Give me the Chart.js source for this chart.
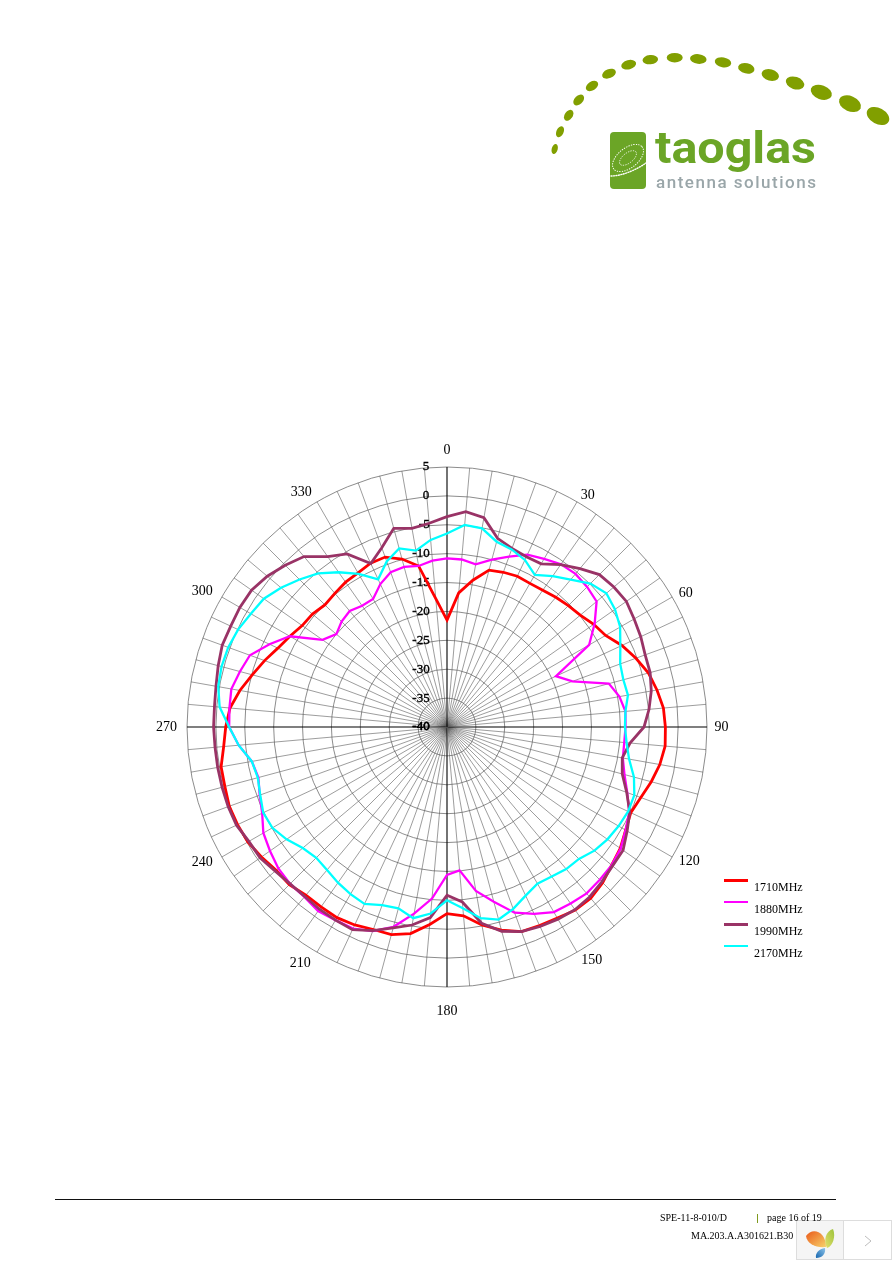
<!DOCTYPE html>
<html>
<head>
<meta charset="utf-8">
<title>Antenna radiation pattern</title>
<style>
html,body{margin:0;padding:0;background:#fff;width:892px;height:1262px;overflow:hidden;}
#wrap{position:relative;width:892px;height:1262px;overflow:hidden;}
canvas{position:absolute;left:0;top:0;}
svg{position:absolute;left:0;top:0;}
.ft{position:absolute;font:10px "Liberation Serif",serif;color:#000;white-space:nowrap;}
</style>
<script src="https://cdn.jsdelivr.net/npm/chart.js@4"></script>
</head>
<body>
<div id="wrap">
<canvas id="c" width="892" height="1262"></canvas>
<svg width="892" height="1262" viewBox="0 0 892 1262">
  <defs>
    <linearGradient id="o" x1="0" y1="0" x2="1" y2="1"><stop offset="0" stop-color="#ea5a1a"/><stop offset="1" stop-color="#f7d26a"/></linearGradient>
    <linearGradient id="g" x1="1" y1="0" x2="0" y2="1"><stop offset="0" stop-color="#9cc33c"/><stop offset="1" stop-color="#e4df6c"/></linearGradient>
    <linearGradient id="b" x1="1" y1="0" x2="0" y2="1"><stop offset="0" stop-color="#8cc4ea"/><stop offset="1" stop-color="#1766ae"/></linearGradient>
  </defs>
  <g fill="#819f00">
    <ellipse cx="554.7" cy="149" rx="3" ry="5.2" transform="rotate(15 554.7 149)"/>
    <ellipse cx="560" cy="131.7" rx="3.6" ry="5.8" transform="rotate(25 560 131.7)"/>
    <ellipse cx="568.7" cy="115.3" rx="4" ry="6" transform="rotate(35 568.7 115.3)"/>
    <ellipse cx="578.7" cy="100" rx="4.2" ry="6.4" transform="rotate(45 578.7 100)"/>
    <ellipse cx="592" cy="86" rx="4.3" ry="6.8" transform="rotate(58 592 86)"/>
    <ellipse cx="609" cy="73.7" rx="4.5" ry="7.2" transform="rotate(68 609 73.7)"/>
    <ellipse cx="628.7" cy="64.7" rx="4.6" ry="7.6" transform="rotate(75 628.7 64.7)"/>
    <ellipse cx="650.3" cy="59.7" rx="4.6" ry="7.8" transform="rotate(85 650.3 59.7)"/>
    <ellipse cx="674.7" cy="57.7" rx="4.8" ry="8" transform="rotate(90 674.7 57.7)"/>
    <ellipse cx="698.3" cy="59" rx="4.8" ry="8.3" transform="rotate(97 698.3 59)"/>
    <ellipse cx="723" cy="62.3" rx="5" ry="8.3" transform="rotate(100 723 62.3)"/>
    <ellipse cx="746.3" cy="68.3" rx="5.2" ry="8.3" transform="rotate(103 746.3 68.3)"/>
    <ellipse cx="770.3" cy="75" rx="5.7" ry="8.8" transform="rotate(105 770.3 75)"/>
    <ellipse cx="795" cy="83" rx="6.2" ry="9.5" transform="rotate(108 795 83)"/>
    <ellipse cx="821.3" cy="92.3" rx="7" ry="11" transform="rotate(110 821.3 92.3)"/>
    <ellipse cx="850" cy="103.7" rx="7.6" ry="11.5" transform="rotate(113 850 103.7)"/>
    <ellipse cx="878" cy="116" rx="8" ry="12" transform="rotate(118 878 116)"/>
  </g>
  <rect x="610" y="132" width="36" height="57" rx="4" fill="#6ba526"/>
  <g fill="none" stroke="#fff" stroke-linecap="round">
    <ellipse cx="628" cy="158" rx="18" ry="10" transform="rotate(-38 628 158)" stroke-width="1" stroke-dasharray="0.5 2"/>
    <ellipse cx="628" cy="158" rx="10" ry="5" transform="rotate(-38 628 158)" stroke-width="0.8" stroke-dasharray="0.5 2"/>
    <path d="M611,176 C622,176 636,170 646,163" stroke-width="1.4" stroke-dasharray="1 1.5"/>
  </g>
  <text x="655" y="163" font-family="Roboto" font-weight="700" font-size="44" fill="#6ba526" textLength="161" lengthAdjust="spacingAndGlyphs">taoglas</text>
  <text x="656" y="188" font-family="Roboto" font-weight="500" font-size="17" fill="#9aa6a9" textLength="160" lengthAdjust="spacing">antenna solutions</text>
  <line x1="55" y1="1199.5" x2="836" y2="1199.5" stroke="#111" stroke-width="1"/>
  <rect x="757" y="1214" width="1" height="9" fill="#7f9a1e"/>
  <rect x="796.5" y="1220.5" width="47" height="39" fill="#f5f5f5" stroke="#dddddd"/>
  <rect x="843.5" y="1220.5" width="48" height="39" fill="#fff" stroke="#dddddd"/>
  <path d="M806,1236 C812,1227 826,1231 826,1247 C816,1248 807,1244 806,1236Z" fill="url(#o)"/>
  <path d="M833,1229 C836,1236 833,1246 827,1248 C823,1240 826,1231 833,1229Z" fill="url(#g)"/>
  <path d="M825,1248 C826,1254 822,1258 816,1258 C815,1253 819,1249 825,1248Z" fill="url(#b)"/>
  <path d="M865,1236 L871,1241 L865,1246" fill="none" stroke="#bdbdbd" stroke-width="1"/>
</svg>
<div class="ft" style="left:660px;top:1212px">SPE-11-8-010/D</div>
<div class="ft" style="left:767px;top:1212px">page 16 of 19</div>
<div class="ft" style="left:691px;top:1230px">MA.203.A.A301621.B30</div>
</div>
<script>
const angles = Array.from({length:72},(_,i)=>i*5);
const tickValues = [-40,-35,-30,-25,-20,-15,-10,-5,0,5];
const seriesNames = ['1710MHz','1880MHz','1990MHz','2170MHz'];
const seriesColors = ['#ff0000','#ff00ff','#993366','#00ffff'];
const seriesWidths = [2.8,2.3,2.8,2.3];

const s1710 = [-21.5,-16.7,-14.2,-11.9,-11.5,-11.2,-11.3,-11.1,-10.7,-10.3,-9.9,-9.0,-8.3,-6.6,-5.2,-3.9,-3.1,-2.4,
 -2.2,-2.1,-2.6,-3.4,-4.3,-4.9,-4.3,-3.4,-2.8,-1.9,-1.3,-1.3,-1.8,-2.1,-2.3,-3.6,-5.2,-7.2,
 -7.7,-5.7,-3.7,-2.8,-2.7,-2.2,-1.9,-2.0,-2.0,-1.4,-1.4,-0.8,-0.2,0,0.1,-0.2,-0.3,-1.2,
 -1.7,-2.3,-3.6,-5.1,-6.4,-7.7,-8.6,-9.4,-9.6,-10.1,-9.8,-9.4,-9.2,-8.7,-8.7,-9.9,-11.7,-17.7];
const s1880 = [-10.8,-10.9,-11.4,-10,-8.6,-7.1,-6.4,-5.6,-5.4,-5.7,-6.2,-8.8,-11.6,-19.2,-16.9,-11,-9.7,-9,
 -9.1,-9.2,-9.1,-8.2,-6.8,-5.2,-4.3,-3.3,-2.8,-2.6,-2.4,-2.7,-3,-4.3,-5.8,-8.7,-11.2,-15.1,
 -14.4,-10.2,-7.2,-4.2,-2.4,-1.5,-1.4,-1.1,-1.6,-1.6,-1.9,-2.6,-3.3,-4.7,-5.5,-6.2,-5.7,-3.8,
 -2.3,-2.2,-2.1,-2.9,-3.7,-6.1,-8.6,-13.7,-15,-14.2,-13.8,-14.4,-14.4,-12.7,-11.5,-11.3,-11.7,-11.1];
const s1990 = [-3.6,-2.6,-3.2,-6.2,-7.1,-7.5,-7.4,-5.7,-4.2,-2.7,-2.3,-2.1,-2.6,-3,-3.5,-3.6,-4.1,-4.9,
 -5.9,-8.2,-9.2,-8.6,-6.9,-5.1,-4,-2.8,-2.6,-2.1,-1.6,-1.4,-1.6,-1.9,-2.3,-3.4,-5.5,-9.6,
 -10.9,-6.9,-5.2,-4,-2.5,-1.3,-1.4,-1.5,-1.7,-1.6,-1.2,-0.5,-0.4,0.2,0.3,0.3,0.3,0.3,
 0.4,0.4,0.6,1,1.4,1.3,1.4,1.3,0.6,-0.4,-1.5,-4,-5.4,-8.8,-7,-4.4,-5.1,-4.6];
const s2170 = [-6.5,-4.9,-5.1,-6.8,-7.3,-8.1,-9.6,-8.1,-6.7,-4.9,-4,-4.5,-5.4,-6.9,-8.1,-8.4,-8.2,-9,
 -9.2,-8.8,-8,-6.5,-5.5,-5.4,-5.7,-6.1,-6.7,-7.7,-7.9,-8.4,-8.7,-7.8,-6.5,-5.5,-6.4,-8.5,
 -10,-7.6,-6.4,-7.5,-7.2,-6.2,-6.6,-7.1,-7.7,-8,-7.4,-6.1,-5.1,-4.9,-5.6,-6.1,-5.7,-3.8,
 -2.3,-0.5,0.2,0.4,0.3,-0.1,-0.8,-1.3,-2.5,-3.9,-5.3,-7.3,-9.4,-11.8,-9.5,-8,-9,-7.5];
const seriesValues = [s1710,s1880,s1990,s2170];

const serif = '"Liberation Serif", "Times New Roman", serif';
const labelPad = {0:0,30:-1,60:-1,90:-1,120:-1,150:0,180:8,210:4,240:2,270:1.5,300:2,330:2};

function legendSwatch(color,width){
  const cv=document.createElement('canvas');cv.width=24;cv.height=18;
  const x=cv.getContext('2d');x.fillStyle=color;
  x.fillRect(0,Math.round(1.5-width/2),24,Math.max(2,Math.round(width)));
  return cv;
}
const moveLegend = {
  id:'moveLegend',
  afterLayout(chart){
    const l=chart.legend;
    const w=l.right-l.left,h=l.bottom-l.top;
    l.left=714;l.right=714+w;l.top=872;l.bottom=872+h;
  }
};

new Chart(document.getElementById('c'),{
  type:'radar',
  plugins:[moveLegend],
  data:{
    labels:angles,
    datasets:seriesNames.map((n,i)=>({
      label:n,
      data:seriesValues[i],
      borderColor:seriesColors[i],
      backgroundColor:'transparent',
      borderWidth:seriesWidths[i],
      fill:false,
      tension:0,
      pointRadius:0,
      pointHoverRadius:0,
      pointStyle:legendSwatch(seriesColors[i],seriesWidths[i]),
      order:4-i
    }))
  },
  options:{
    responsive:false,
    animation:false,
    events:[],
    layout:{padding:{left:152,right:158,top:437,bottom:237}},
    plugins:{
      tooltip:{enabled:false},
      title:{display:false},
      legend:{
        display:true,
        position:'chartArea',
        align:'start',
        labels:{
          usePointStyle:true,
          pointStyleWidth:24,
          boxWidth:24,
          padding:10,
          color:'#000',
          font:{family:serif,size:12},
          sort:(a,b)=>a.datasetIndex-b.datasetIndex
        }
      }
    },
    scales:{
      r:{
        min:-40,max:5,
        startAngle:0,
        afterBuildTicks:s=>{s.ticks.unshift({value:tickValues[0]});},
        beginAtZero:false,
        ticks:{
          stepSize:5,
          showLabelBackdrop:false,
          color:'#000',
          font:{family:serif,size:13},
          textStrokeColor:'#000',
          textStrokeWidth:0.35,
          callback:v=>{
            const s=String(v);
            const w=(s.length-(v<0?1:0))*6.5+(v<0?4.33:0);
            return s+' '.repeat(Math.round((35+w)/3.25));
          }
        },
        grid:{circular:true,color:'#5a5a5a',lineWidth:0.7},
        angleLines:{
          display:true,
          color:c=>c.index%18===0?'#000':'#5a5a5a',
          lineWidth:c=>c.index%18===0?1.1:0.6
        },
        pointLabels:{
          display:true,
          color:'#000',
          font:c=>({family:serif,size:14,lineHeight:(c.index%18===0)?1.15:0.05}),
          padding:c=>labelPad[c.index*5]||0,
          callback:l=>l%30===0?String(l):''
        }
      }
    }
  }
});
</script>
</body>
</html>
